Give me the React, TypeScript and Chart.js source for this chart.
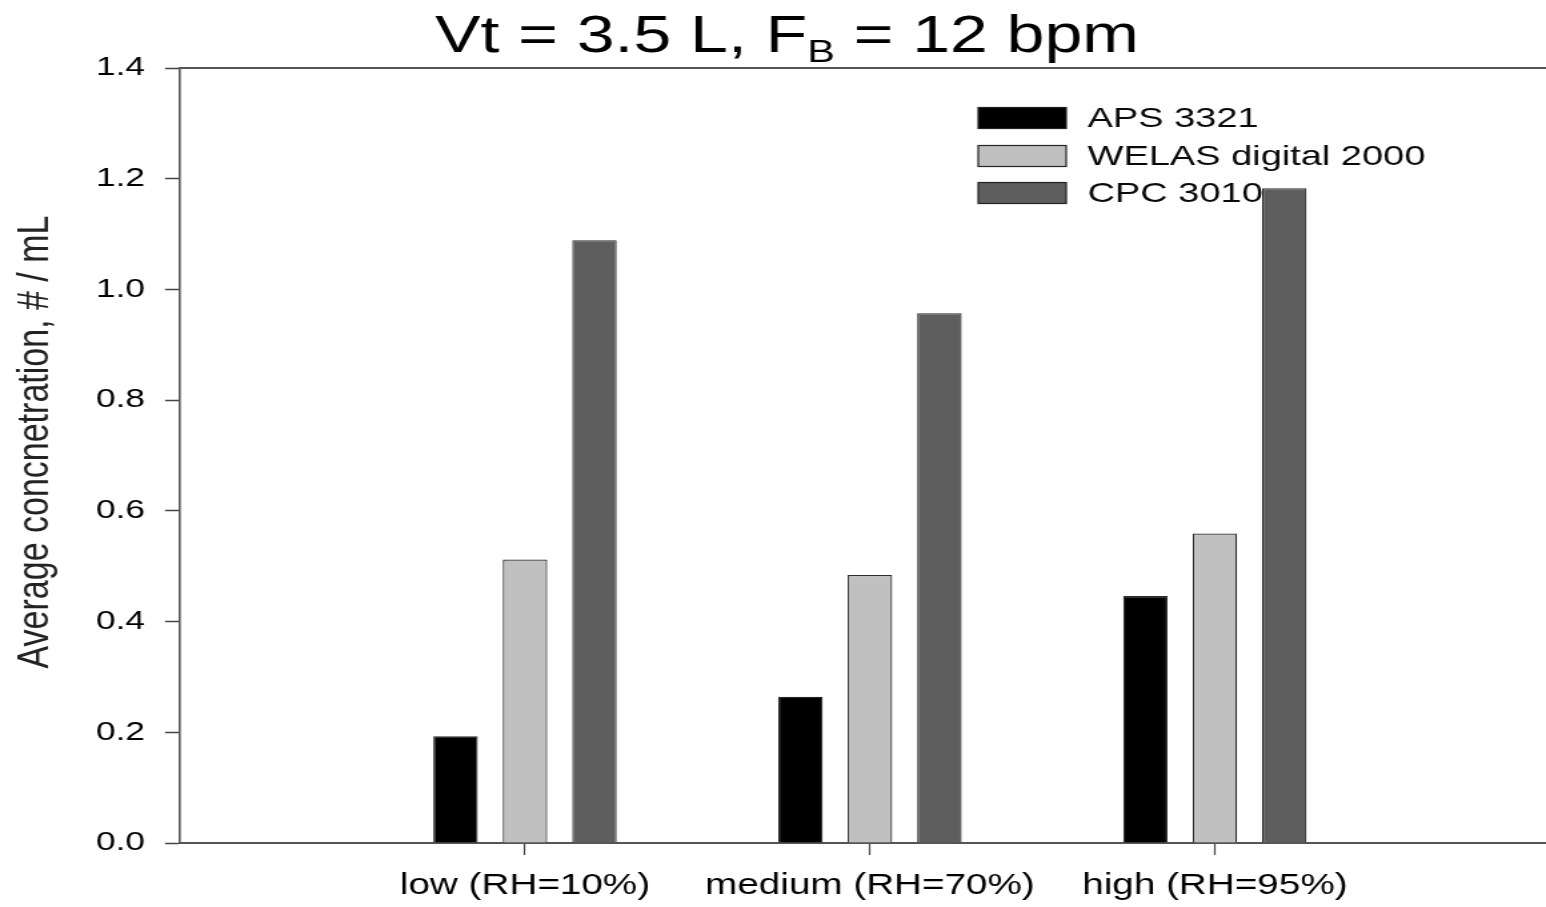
import React, { useEffect, useRef } from 'react';
import { Chart, registerables } from 'chart.js';

Chart.register(...registerables);

// Humidity conditions on the category axis
const conditions = ['low (RH=10%)', 'medium (RH=70%)', 'high (RH=95%)'];

// Average concentration (# / mL) per instrument
const aps3321 = [0.193, 0.264, 0.446];
const welas2000 = [0.512, 0.484, 0.559];
const cpc3010 = [1.089, 0.957, 1.183];

const seriesNames = ['APS 3321', 'WELAS digital 2000', 'CPC 3010'];
const seriesFills = ['#000000', '#c0c0c0', '#5e5e5e'];

const yTitle = 'Average concnetration, # / mL';

const FONT = '"Liberation Sans", Arial, Helvetica, sans-serif';

// Internal drawing size; the canvas is displayed wider than it is drawn.
const DRAW_W = 1160;
const DRAW_H = 907;

const decorations = {
  id: 'decorations',
  beforeDatasetsDraw(chart: any) {
    const { ctx } = chart;
    const rows = [118, 156, 193];
    ctx.save();
    chart.data.datasets.forEach((ds: any, i: number) => {
      const y = rows[i];
      ctx.fillStyle = ds.backgroundColor;
      ctx.fillRect(734, y - 10.5, 66, 21);
      ctx.strokeStyle = '#222';
      ctx.lineWidth = 1.2;
      ctx.strokeRect(734, y - 10.5, 66, 21);
      ctx.fillStyle = '#0a0a0a';
      ctx.font = `28.5px ${FONT}`;
      ctx.textAlign = 'left';
      ctx.textBaseline = 'middle';
      ctx.fillText(ds.label, 816, y + 1);
    });
    ctx.restore();
  },
  afterDraw(chart: any) {
    const { ctx, chartArea } = chart;
    ctx.save();

    // top frame line
    ctx.strokeStyle = '#555';
    ctx.lineWidth = 2;
    ctx.beginPath();
    ctx.moveTo(chartArea.left, chartArea.top);
    ctx.lineTo(chartArea.right, chartArea.top);
    ctx.stroke();

    // title with subscript B
    const partA = 'Vt = 3.5 L, F';
    const partB = 'B';
    const partC = ' = 12 bpm';
    ctx.fillStyle = '#000';
    ctx.textAlign = 'left';
    ctx.textBaseline = 'alphabetic';
    ctx.font = `51px ${FONT}`;
    const wa = ctx.measureText(partA).width;
    const wc = ctx.measureText(partC).width;
    ctx.font = `31px ${FONT}`;
    const wb = ctx.measureText(partB).width;
    const x0 = 590.5 - (wa + wb + wc) / 2;
    ctx.font = `51px ${FONT}`;
    ctx.fillText(partA, x0, 52);
    ctx.fillText(partC, x0 + wa + wb, 52);
    ctx.font = `31px ${FONT}`;
    ctx.fillText(partB, x0 + wa, 62);

    // rotated y-axis title
    ctx.translate(26.3, 442);
    ctx.rotate(-Math.PI / 2);
    ctx.font = `34px ${FONT}`;
    ctx.fillStyle = '#222';
    ctx.textAlign = 'center';
    ctx.textBaseline = 'middle';
    ctx.fillText(yTitle, 0, 0);

    ctx.restore();
  },
};

export default function App() {
  const canvasRef = useRef<HTMLCanvasElement | null>(null);

  useEffect(() => {
    const canvas = canvasRef.current;
    if (!canvas) return;

    const series = [aps3321, welas2000, cpc3010];
    const chart = new Chart(canvas, {
      type: 'bar',
      data: {
        datasets: series.map((values, s) => ({
          label: seriesNames[s],
          data: values.map((v, i) => ({ x: i + 1, y: v })),
          backgroundColor: seriesFills[s],
          borderColor: '#2a2a2a',
          borderWidth: 1.2,
          categoryPercentage: 0.604,
          barPercentage: 0.64,
        })),
      },
      options: {
        responsive: false,
        animation: false,
        devicePixelRatio: 1,
        layout: { padding: { top: 68, left: 0, right: 0, bottom: 0 } },
        plugins: {
          legend: { display: false },
          tooltip: { enabled: false },
        },
        scales: {
          x: {
            type: 'linear',
            min: 0,
            max: 3.96,
            offset: false,
            afterBuildTicks: (scale: any) => {
              scale.ticks = conditions.map((_, i) => ({ value: i + 1 }));
            },
            afterFit: (scale: any) => {
              scale.height = 64;
            },
            grid: {
              offset: false,
              drawOnChartArea: false,
              drawTicks: true,
              tickLength: 12,
              tickColor: '#444',
              tickWidth: 1.2,
            },
            border: { display: true, color: '#555', width: 2 },
            ticks: {
              autoSkip: false,
              maxRotation: 0,
              minRotation: 0,
              padding: 14,
              color: '#000',
              font: { family: FONT, size: 29 },
              callback: (v: any) => conditions[Math.round(Number(v)) - 1] ?? '',
            },
          },
          y: {
            min: 0,
            max: 1.4,
            afterFit: (scale: any) => {
              scale.width = 135.1;
            },
            grid: {
              drawOnChartArea: false,
              drawTicks: true,
              tickLength: 11.3,
              tickColor: '#444',
              tickWidth: 1.5,
            },
            border: { display: true, color: '#555', width: 1.6 },
            ticks: {
              stepSize: 0.2,
              padding: 15,
              color: '#000',
              font: { family: FONT, size: 26.5 },
              callback: (v: any) => Number(v).toFixed(1),
            },
          },
        },
      },
      plugins: [decorations],
    } as any);

    return () => chart.destroy();
  }, []);

  return (
    <div
      style={{
        position: 'fixed',
        left: 0,
        top: 0,
        width: 1546,
        height: 907,
        background: '#fff',
        overflow: 'hidden',
      }}
    >
      <canvas
        ref={canvasRef}
        width={DRAW_W}
        height={DRAW_H}
        style={{ width: '1546px', height: '907px', display: 'block' }}
      />
    </div>
  );
}
